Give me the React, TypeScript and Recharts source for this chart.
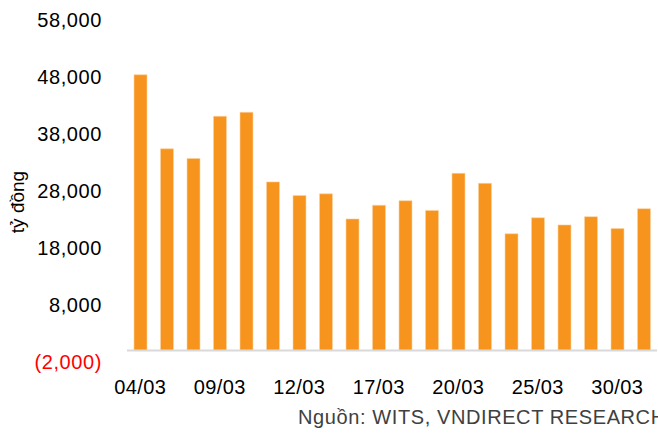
import React from 'react';
import { BarChart, Bar, XAxis, YAxis, ReferenceLine } from 'recharts';

const dates = [
  '04/03', '05/03', '06/03', '09/03', '10/03', '11/03', '12/03', '13/03', '16/03', '17/03',
  '18/03', '19/03', '20/03', '23/03', '24/03', '25/03', '26/03', '27/03', '30/03', '31/03',
];
const turnover = [
  48400, 35400, 33700, 41100, 41800, 29600, 27200, 27500, 23100, 25500,
  26300, 24600, 31100, 29350, 20500, 23300, 22050, 23500, 21400, 24900,
];
const yTicks = [-2000, 8000, 18000, 28000, 38000, 48000, 58000];

const data = dates.map((d, i) => ({ date: d, value: turnover[i] }));

const FONT = '"Liberation Sans", Arial, sans-serif';
const ORANGE = '#F7941D';

const fmt = (v: number) => {
  const s = Math.abs(v).toLocaleString('en-US');
  return v < 0 ? `(${s})` : s;
};

const YTick = (props: any) => {
  const { x, y, payload } = props;
  const neg = payload.value < 0;
  return (
    <text x={x} y={y} dy="0.36em" textAnchor="end" fontFamily={FONT} fontSize={20}
      letterSpacing={0.6} fill={neg ? '#FF0000' : '#000'}>
      {fmt(payload.value)}
    </text>
  );
};

const XTick = (props: any) => {
  const { x, y, payload } = props;
  return (
    <text x={x} y={y} dy="0.71em" textAnchor="middle" fontFamily={FONT} fontSize={20}
      letterSpacing={0.4} fill="#000">
      {payload.value}
    </text>
  );
};

const YTitle = () => (
  <text x={0} y={0} transform="translate(24,202) rotate(-90)" textAnchor="middle"
    fontFamily={FONT} fontSize={19} fill="#000">
    tỷ đồng
  </text>
);

export default function App() {
  return (
    <div style={{ position: 'absolute', left: 0, top: 0, width: 658, height: 438, background: '#fff', overflow: 'hidden' }}>
      <BarChart width={658} height={438} data={data}
        margin={{ top: 20, right: 1, left: 0, bottom: 0 }} barSize={13}>
        <XAxis dataKey="date" interval={2} axisLine={false} tickLine={false}
          tickSize={0} tickMargin={18} height={76} tick={<XTick />} />
        <YAxis domain={[-2000, 58000]} ticks={yTicks} axisLine={false} tickLine={false}
          width={127} tickMargin={19} tick={<YTick />} label={<YTitle />} />
        <ReferenceLine y={0} stroke="#D9D9D9" strokeWidth={2} />
        <Bar dataKey="value" fill={ORANGE} stroke="#FBD3A3" strokeWidth={0.6} isAnimationActive={false} />
      </BarChart>
      <div style={{ position: 'absolute', left: 298, top: 406, fontFamily: FONT, fontSize: 20,
        letterSpacing: 0.6, color: '#404040', whiteSpace: 'nowrap', overflow: 'hidden', width: 360 }}>
        Nguồn: WITS, VNDIRECT RESEARCH
      </div>
    </div>
  );
}
